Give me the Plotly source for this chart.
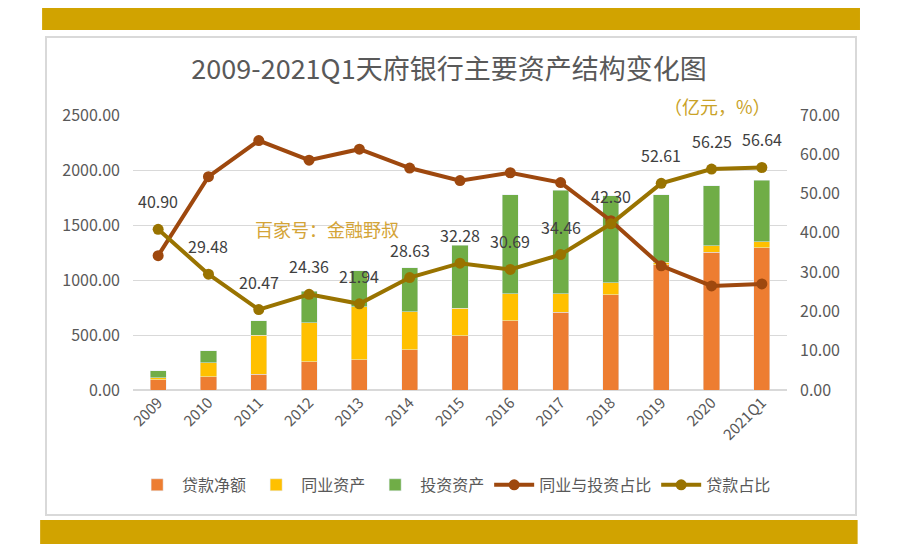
import plotly.graph_objects as go

categories = ["2009", "2010", "2011", "2012", "2013", "2014", "2015", "2016",
              "2017", "2018", "2019", "2020", "2021Q1"]
loans_net = [91, 121, 145, 258, 273, 364, 491, 630, 709, 864, 1140, 1252, 1294]
interbank = [21, 127, 355, 354, 485, 348, 254, 243, 164, 112, 20, 60, 54]
investment = [61, 107, 130, 288, 324, 400, 573, 900, 945, 788, 613, 543, 561]
interbank_invest_ratio = [34.2, 54.3, 63.5, 58.5, 61.3, 56.5, 53.3, 55.3, 52.8, 43.1, 31.6, 26.5, 27.0]
loan_ratio = [40.90, 29.48, 20.47, 24.36, 21.94, 28.63, 32.28, 30.69, 34.46, 42.30, 52.61, 56.25, 56.64]

FONT = "Noto Sans CJK SC"
GRAY = "#595959"

fig = go.Figure()
fig.add_bar(x=categories, y=loans_net, name="贷款净额", marker_color="#ED7D31")
fig.add_bar(x=categories, y=interbank, name="同业资产", marker_color="#FFC000")
fig.add_bar(x=categories, y=investment, name="投资资产", marker_color="#70AD47")
fig.add_scatter(x=categories, y=interbank_invest_ratio, name="同业与投资占比", yaxis="y2",
                mode="lines+markers", line=dict(color="#9E480E", width=4),
                marker=dict(size=11, color="#9E480E"))
fig.add_scatter(x=categories, y=loan_ratio, name="贷款占比", yaxis="y2",
                mode="lines+markers", line=dict(color="#997300", width=4),
                marker=dict(size=11, color="#997300"))

annotations = []
for i, v in enumerate(loan_ratio):
    annotations.append(dict(x=i, y=v, xref="x", yref="y2", text=f"{v:.2f}",
                            showarrow=False, yshift=28,
                            font=dict(family=FONT, size=16, color="#404040")))
annotations.append(dict(x=0.893, y=1.033, xref="paper", yref="paper", text="（亿元，%）",
                        xanchor="center", yanchor="middle",
                        showarrow=False, font=dict(family=FONT, size=18, color="#C9A227")))
annotations.append(dict(x=0.2966, y=0.585, xref="paper", yref="paper", text="百家号：金融野叔",
                        xanchor="center", yanchor="middle",
                        showarrow=False, font=dict(family=FONT, size=18, color="#D4A437")))

shapes = [
    dict(type="rect", xref="paper", yref="paper", x0=-0.133, x1=1.1055, y0=-0.4545, y1=1.2836,
         line=dict(color="#D9D9D9", width=2), fillcolor="white", layer="below"),
    dict(type="rect", xref="paper", yref="paper", x0=-0.139, x1=1.1116, y0=1.309, y1=1.389,
         line=dict(width=0), fillcolor="#D1A300", layer="below"),
    dict(type="rect", xref="paper", yref="paper", x0=-0.142, x1=1.108, y0=-0.56, y1=-0.4727,
         line=dict(width=0), fillcolor="#D1A300", layer="below"),
]

fig.update_layout(
    width=898, height=544,
    margin=dict(l=133, r=111, t=115, b=154),
    paper_bgcolor="white", plot_bgcolor="rgba(0,0,0,0)",
    barmode="stack", bargap=0.68,
    font=dict(family=FONT, color=GRAY),
    title=dict(text="2009-2021Q1天府银行主要资产结构变化图", x=0.5, xanchor="center",
               y=1 - 70 / 544, yanchor="middle",
               font=dict(family=FONT, size=27, color=GRAY)),
    xaxis=dict(type="category", range=[-0.5, 12.5], tickangle=-45,
               tickfont=dict(size=15, color=GRAY),
               showgrid=False, showline=False, ticks=""),
    yaxis=dict(range=[0, 2500], dtick=500, tickformat=".2f", showgrid=True,
               gridcolor="#D9D9D9", gridwidth=1, zeroline=True, zerolinecolor="#D9D9D9",
               tickfont=dict(size=16, color=GRAY), ticks="", ticklabelstandoff=12),
    yaxis2=dict(range=[0, 70], dtick=10, tickformat=".2f", overlaying="y", side="right",
                showgrid=False, zeroline=False, tickfont=dict(size=16, color=GRAY), ticks="",
                ticklabelstandoff=12),
    legend=dict(orientation="h", traceorder="normal", x=0.491, xanchor="center",
                y=-0.345, yanchor="middle", itemwidth=40,
                font=dict(size=16, color=GRAY), bgcolor="rgba(0,0,0,0)"),
    annotations=annotations,
    shapes=shapes,
)

fig.write_html("out.html")
